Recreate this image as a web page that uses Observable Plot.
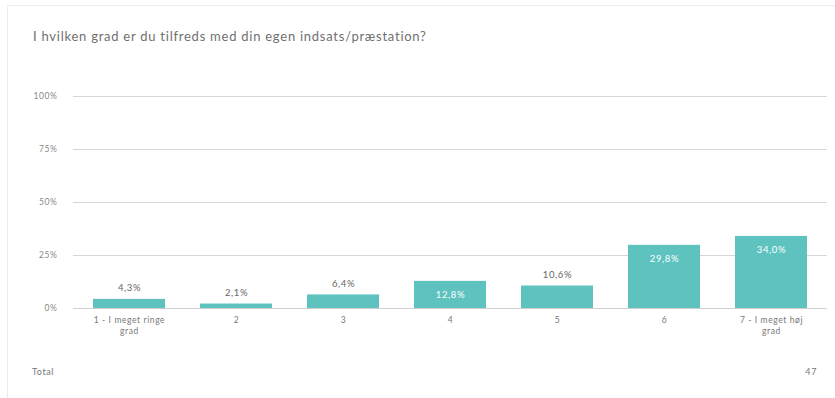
<!DOCTYPE html>
<html>
<head>
<meta charset="utf-8">
<script src="https://cdn.jsdelivr.net/npm/d3@7"></script>
<script src="https://cdn.jsdelivr.net/npm/@observablehq/plot@0.6"></script>
<style>
  html, body { margin: 0; padding: 0; background: #fff; }
  #wrap { position: relative; width: 835px; height: 398px; overflow: hidden; font-family: Lato, "Open Sans", sans-serif; }
  #card { position: absolute; left: 7px; top: 5px; width: 860px; height: 420px; border-left: 1px solid #ececec; border-top: 1px solid #ececec; }
  #title { position: absolute; left: 33px; top: 28px; font-size: 13px; letter-spacing: 0.75px; color: #707070; white-space: nowrap; }
  #chart { position: absolute; left: 0; top: 0; }
  #chart svg text { letter-spacing: 0.6px; }
  .foot { position: absolute; top: 366px; font-size: 9px; letter-spacing: 0.6px; color: #777; }
</style>
</head>
<body>
<div id="wrap">
  <div id="card"></div>
  <div id="title">I hvilken grad er du tilfreds med din egen indsats/præstation?</div>
  <div id="chart"></div>
  <div class="foot" id="totalLabel" style="left:32px;">Total</div>
  <div class="foot" id="totalValue" style="right:18px;"></div>
</div>
<script>
const categories = ["1 - I meget ringe grad", "2", "3", "4", "5", "6", "7 - I meget høj grad"];
const values = [4.3, 2.1, 6.4, 12.8, 10.6, 29.8, 34.0];
const yTicks = [0, 25, 50, 75, 100];
const total = 47;

const data = categories.map((c, i) => ({category: c, value: values[i]}));
const fmt = v => v.toFixed(1).replace(".", ",") + "%";
const inside = d => d.value >= 12;

const plot = Plot.plot({
  width: 835,
  height: 345,
  marginTop: 96,
  marginBottom: 37,
  marginLeft: 74,
  marginRight: 9,
  style: {fontFamily: "Lato, 'Open Sans', sans-serif", background: "transparent"},
  x: {domain: categories, paddingInner: 0.33, paddingOuter: 0.165, label: null},
  y: {domain: [0, 100], label: null},
  marks: [
    Plot.ruleY(yTicks, {stroke: "#d6d6d6", strokeWidth: 1, insetLeft: -1, insetRight: -1}),
    Plot.axisY({ticks: yTicks, tickSize: 0, tickPadding: 17, tickFormat: d => d + "%", fontSize: 8.5, fill: "#888", label: null}),
    Plot.barY(data, {x: "category", y: "value", fill: "#5ec2bf"}),
    Plot.ruleY([0], {stroke: "#cfcfcf"}),
    Plot.text(data.filter(d => !inside(d)), {x: "category", y: "value", text: d => fmt(d.value), dy: -11, fontSize: 9.5, fill: "#666"}),
    Plot.text(data.filter(inside), {x: "category", y: "value", text: d => fmt(d.value), dy: 14, fontSize: 9.5, fill: "#fff"}),
    Plot.axisX({tickSize: 0, tickPadding: 6, fontSize: 8.5, fill: "#777", lineHeight: 1.35, tickFormat: d => d.replace(/ grad$/, "\ngrad"), label: null})
  ]
});
document.getElementById("chart").appendChild(plot);
document.getElementById("totalValue").textContent = total;
</script>
</body>
</html>
